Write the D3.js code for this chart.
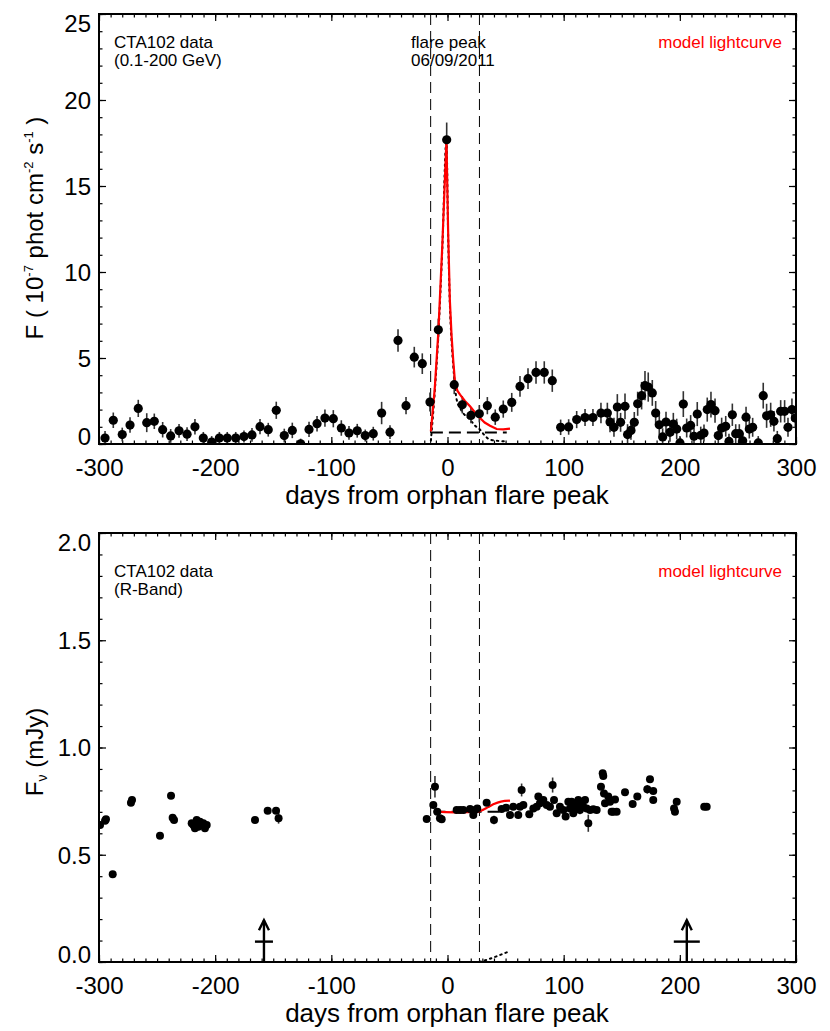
<!DOCTYPE html>
<html><head><meta charset="utf-8">
<script src="https://cdn.jsdelivr.net/npm/d3@7"></script>
<style>body{margin:0;background:#fff} svg{display:block}</style>
</head><body>
<svg id="c" width="830" height="1031"></svg>
<script>
// ---------- DATA ----------
// Fermi-LAT gamma-ray light curve (days from flare peak, flux 1e-7 ph cm^-2 s^-1, error)
const gammaDays = [-294.8,-287.7,-280,-273.3,-266.2,-258.9,-252.4,-245.2,-238.3,-231.1,-224.2,-217.4,-210.2,-203,-196.4,-189.6,-182.3,-175.2,-168.3,-161.4,-154.3,-147.4,-140.5,-133.6,-126.4,-119.2,-112.3,-105.5,-98.3,-91.4,-84.8,-77.7,-70.8,-63.9,-56.7,-49.5,-42.6,-35.7,-28.6,-21.7,-15.1,-7.9,-0.7,5.8,12.7,20.2,27.4,34.3,41.1,48,55.3,62.4,69.3,76.2,83.3,90.2,
  97.4,104.3,111.2,118.4,125.2,132.1,137.6,139.9,143.3,146.2,149,152.8,155,157.9,160.8,163.7,167.1,170,172.8,176.3,179.2,182.3,185.2,188.1,191.5,194.4,197.3,200.1,203,205.9,209.3,212.2,215,218,220.8,223.6,226.8,230.3,233.1,236,239.5,242.3,245.2,248.1,251.2,254.1,257,259.8,262.7,267.5,271.8,274.7,278.2,281,283.9,286.8,290.2,293.1,296.5,299.4];
const gammaFlux = [0.35,1.38,0.55,1.10,2.07,1.24,1.32,0.83,0.47,0.77,0.57,1.00,0.35,0.11,0.35,0.35,0.35,0.43,0.53,1.01,0.83,1.96,0.49,0.79,0.01,0.85,1.18,1.51,1.47,0.93,0.64,0.77,0.49,0.60,1.80,0.69,6.02,2.23,5.05,4.67,2.44,6.64,17.69,3.45,2.28,1.66,1.76,2.23,1.56,2.03,2.42,3.35,3.80,4.16,4.16,3.68,
  0.97,0.99,1.42,1.54,1.54,1.80,1.80,1.28,0.97,2.15,1.26,2.19,0.55,0.79,1.26,2.34,2.81,3.39,3.31,2.97,1.80,1.12,0.41,1.28,0.68,1.16,0.87,0.06,2.32,0.93,1.08,0.45,1.74,0.51,0.64,2.00,2.29,1.94,0.49,0.93,1.03,0.15,1.70,0.60,0.60,0.19,1.56,0.87,0.97,0.06,2.81,1.64,1.70,1.32,0.31,1.90,1.90,0.97,2.00,1.51];
const gammaErr = [0.40,0.45,0.40,0.45,0.50,0.55,0.45,0.45,0.40,0.40,0.40,0.45,0.35,0.35,0.35,0.35,0.35,0.35,0.40,0.45,0.40,0.50,0.40,0.45,0.30,0.45,0.45,0.50,0.50,0.45,0.40,0.40,0.35,0.40,0.65,0.40,0.65,0.50,0.60,0.60,0.55,0.65,1.00,0.55,0.50,0.45,0.50,0.50,0.45,0.50,0.55,0.60,0.60,0.65,0.65,0.65,
  0.45,0.45,0.50,0.50,0.50,0.60,0.60,0.60,0.55,0.75,0.55,0.75,0.60,0.55,0.60,0.70,0.80,0.85,0.85,0.75,0.70,0.60,0.50,0.60,0.55,0.65,0.60,0.40,0.75,0.55,0.60,0.50,0.70,0.50,0.50,0.70,0.75,0.70,0.50,0.60,0.60,0.45,0.65,0.55,0.55,0.45,0.60,0.55,0.55,0.40,0.75,0.70,0.70,0.60,0.45,0.65,0.65,0.55,0.65,0.60];

// gamma-ray model
const gModelDays = [-14.3,-11,-7.9,-4.5,-0.9,0.5,2.0,3.5,4.9,6.5,8.5,10.8,15,19.4,24,28,32,36.6,42.3,48,53.8];
const gModelFlux = [0.73,3.2,6.5,11.5,17.69,12.5,8.4,6.3,4.9,3.55,3.1,2.87,2.5,2.19,1.8,1.51,1.25,1.06,0.87,0.85,0.89];
const gFlareDays = [-14.3,-11,-7.9,-4.5,-0.9,0.5,2.0,3.5,4.9,7.9,12,19.4,24,28,32,36.6,44,51];
const gFlareFlux = [0.2,3.0,6.3,11.3,17.69,12.3,8.2,6.0,4.6,2.58,1.95,1.41,1.05,0.83,0.5,0.25,0.18,0.15];
const gBaseDays = [-14.3,51];
const gBaseFlux = [0.67,0.67];

// R-band optical light curve (days, mJy, error)
const rDays = [-299.1,-294.8,-294,-288.2,-272.5,-271.6,-247.5,-238,-236.6,-235.4,-220.2,-218.8,-217.4,-215.9,-214.5,-213.1,-210.2,-208.8,-207.3,-165.7,-154.8,-147.6,-145.4,
  -17.9,-12.2,-10.8,-8.8,-6.5,-5,7.9,10.8,13.6,19.4,22.2,23.7,25.6,33.7,40,46.6,50.4,53.8,56.6,60.9,62.4,63.8,65.3,70.4,73.9,76.8,78.2,79.6,82.5,85.4,88.2,90.5,91.7,94,96.8,99.7,101.7,104,105.4,106.9,108.3,109.7,111.2,112.6,114,115.5,116.9,118.4,119.8,121.2,122.7,125.5,128.4,132.1,133.6,134.1,134.7,135.6,138.4,139.9,141.3,142.7,144.2,145.6,152.8,159.4,163.4,172,174.3,177.1,177.1,195,195.8,197.3,221,223.1];
const rFlux = [0.639,0.659,0.665,0.409,0.743,0.755,0.589,0.775,0.673,0.662,0.647,0.639,0.623,0.662,0.631,0.654,0.647,0.623,0.639,0.662,0.705,0.705,0.670,
  0.667,0.732,0.817,0.701,0.670,0.665,0.709,0.709,0.709,0.713,0.685,0.709,0.716,0.743,0.662,0.713,0.719,0.685,0.724,0.685,0.724,0.802,0.732,0.689,0.716,0.724,0.771,0.740,0.755,0.732,0.724,0.825,0.755,0.693,0.724,0.709,0.678,0.747,0.716,0.747,0.693,0.732,0.716,0.755,0.709,0.732,0.724,0.755,0.716,0.647,0.709,0.712,0.709,0.817,0.880,0.867,0.786,0.740,0.771,0.747,0.701,0.701,0.758,0.701,0.791,0.737,0.771,0.805,0.852,0.797,0.755,0.716,0.701,0.747,0.724,0.724];
const rErr = [0.01,0.01,0.01,0.01,0.01,0.01,0.01,0.01,0.01,0.01,0.01,0.01,0.01,0.01,0.01,0.01,0.01,0.01,0.01,0.01,0.01,0.01,0.025,
  0.01,0.01,0.05,0.01,0.01,0.01,0.01,0.01,0.01,0.01,0.01,0.01,0.01,0.015,0.02,0.01,0.01,0.01,0.01,0.01,0.01,0.03,0.015,0.01,0.01,0.01,0.015,0.01,0.015,0.01,0.01,0.035,0.015,0.01,0.015,0.01,0.01,0.015,0.01,0.015,0.01,0.015,0.01,0.015,0.02,0.01,0.01,0.015,0.01,0.04,0.01,0.01,0.01,0.01,0.01,0.01,0.01,0.01,0.01,0.01,0.01,0.01,0.01,0.01,0.015,0.01,0.01,0.02,0.01,0.01,0.01,0.01,0.01,0.01,0.01,0.01];

// R-band model
const rModelDays = [-6.4,9.3,25,30,35,39.4,46,53.8];
const rModelFlux = [0.700,0.698,0.700,0.708,0.722,0.735,0.748,0.752];
const rBaseDays = [-12,46];
const rBaseFlux = [0.700,0.700];
const rFlareDays = [27.5,35,43,52];
const rFlareFlux = [0.0,0.012,0.028,0.047];

// upper-limit arrows in R band
const arrowDays = [-158, 206];
const arrowTopFlux = 0.195;
const arrowBarFlux = 0.095;

// vertical markers (flare window)
const windowDays = [-14.5, 27.5];

// axis ticks
const xMajor = [-300,-200,-100,0,100,200,300];
const xMinor = d3.range(-300, 301, 10);
const yTopMajor = [0,5,10,15,20,25];
const yTopMinor = d3.range(0, 26, 1);
const yBotMajor = [0,0.5,1.0,1.5,2.0];
const yBotMinor = d3.range(0, 21, 1).map(d => d / 10);

// ---------- DRAWING ----------
const FONT = "'Liberation Sans', Arial, Helvetica, sans-serif";
const svg = d3.select('#c');
svg.append('rect').attr('width', 830).attr('height', 1031).attr('fill', '#fff');

const L = 99, R = 796;
const x = d3.scaleLinear().domain([-300, 300]).range([L, R]);
const yT = d3.scaleLinear().domain([0, 25]).range([444, 14]);
const yB = d3.scaleLinear().domain([0, 2]).range([962, 533]);

function panel(id, y, yMajor, yMinor, yFmt) {
  const [b, t] = y.range();
  const g = svg.append('g');
  const defs = svg.append('defs');
  defs.append('clipPath').attr('id', id).append('rect')
    .attr('x', L).attr('y', t).attr('width', R - L).attr('height', b - t);

  const styleAxis = a => {
    a.select('.domain').remove();
    a.selectAll('line').attr('stroke', '#000').attr('stroke-width', 1.2);
    a.selectAll('text').attr('font-family', FONT).attr('font-size', 24).attr('fill', '#000');
  };
  g.append('g').attr('transform', `translate(0,${b})`)
    .call(d3.axisBottom(x).tickValues(xMajor).tickSizeInner(-7).tickSizeOuter(0).tickPadding(15)
      .tickFormat(d => String(d))).call(styleAxis);
  g.append('g').attr('transform', `translate(0,${b})`)
    .call(d3.axisBottom(x).tickValues(xMinor).tickSizeInner(-3.5).tickSizeOuter(0).tickFormat('')).call(styleAxis);
  g.append('g').attr('transform', `translate(0,${t})`)
    .call(d3.axisTop(x).tickValues(xMajor).tickSizeInner(-7).tickSizeOuter(0).tickFormat('')).call(styleAxis);
  g.append('g').attr('transform', `translate(0,${t})`)
    .call(d3.axisTop(x).tickValues(xMinor).tickSizeInner(-3.5).tickSizeOuter(0).tickFormat('')).call(styleAxis);
  const la = g.append('g').attr('transform', `translate(${L},0)`)
    .call(d3.axisLeft(y).tickValues(yMajor).tickSizeInner(-7).tickSizeOuter(0).tickPadding(8).tickFormat(yFmt)).call(styleAxis);
  const dMin = y.domain()[0], dMax = y.domain()[1];
  la.selectAll('.tick text').attr('dy', d => d === dMin ? '0em' : (d === dMax ? '0.72em' : '0.35em'));
  g.append('g').attr('transform', `translate(${L},0)`)
    .call(d3.axisLeft(y).tickValues(yMinor).tickSizeInner(-3.5).tickSizeOuter(0).tickFormat('')).call(styleAxis);
  g.append('g').attr('transform', `translate(${R},0)`)
    .call(d3.axisRight(y).tickValues(yMajor).tickSizeInner(-7).tickSizeOuter(0).tickFormat('')).call(styleAxis);
  g.append('g').attr('transform', `translate(${R},0)`)
    .call(d3.axisRight(y).tickValues(yMinor).tickSizeInner(-3.5).tickSizeOuter(0).tickFormat('')).call(styleAxis);

  g.selectAll('line.win').data(windowDays).enter().append('line')
    .attr('x1', d => x(d)).attr('x2', d => x(d)).attr('y1', t).attr('y2', b)
    .attr('stroke', '#000').attr('stroke-width', 1).attr('stroke-dasharray', '11,6');

  const data = svg.append('g').attr('clip-path', `url(#${id})`);
  return { g, data, b, t };
}

// ===== TOP PANEL =====
const P1 = panel('clipTop', yT, yTopMajor, yTopMinor, d => String(d));
const lineT = d3.line().x(d => x(d[0])).y(d => yT(d[1]));
P1.data.append('path').datum(d3.zip(gBaseDays, gBaseFlux)).attr('d', lineT)
  .attr('fill', 'none').attr('stroke', '#000').attr('stroke-width', 2).attr('stroke-dasharray', '12,6');
P1.data.append('path').datum(d3.zip(gFlareDays, gFlareFlux)).attr('d', lineT.curve(d3.curveMonotoneX))
  .attr('fill', 'none').attr('stroke', '#000').attr('stroke-width', 2).attr('stroke-dasharray', '1.5,4').attr('stroke-linecap', 'round');
const gPts = d3.zip(gammaDays, gammaFlux, gammaErr);
P1.data.selectAll('line.err').data(gPts).enter().append('line')
  .attr('x1', d => x(d[0])).attr('x2', d => x(d[0]))
  .attr('y1', d => yT(d[1] - d[2])).attr('y2', d => yT(d[1] + d[2]))
  .attr('stroke', '#333').attr('stroke-width', 1.6);
P1.data.append('path').datum(d3.zip(gModelDays, gModelFlux))
  .attr('d', d3.line().x(d => x(d[0])).y(d => yT(d[1])))
  .attr('fill', 'none').attr('stroke', '#f00').attr('stroke-width', 2.2);
P1.data.selectAll('circle.pt').data(gPts).enter().append('circle')
  .attr('cx', d => x(d[0])).attr('cy', d => yT(d[1])).attr('r', 4.6).attr('fill', '#000');

svg.append('rect').attr('x', L).attr('y', P1.t).attr('width', R - L).attr('height', P1.b - P1.t)
  .attr('fill', 'none').attr('stroke', '#000').attr('stroke-width', 2);

function txt(xp, yp, s, opts = {}) {
  return svg.append('text').attr('x', xp).attr('y', yp).text(s)
    .attr('font-family', FONT).attr('font-size', opts.size || 17)
    .attr('fill', opts.fill || '#000').attr('text-anchor', opts.anchor || 'start');
}
txt(114, 48, 'CTA102 data');
txt(114, 66, '(0.1-200 GeV)');
txt(411, 48, 'flare peak');
txt(411, 66, '06/09/2011');
txt(782, 48, 'model lightcurve', { fill: '#f00', anchor: 'end' });

txt(447, 504, 'days from orphan flare peak', { size: 26, anchor: 'middle' });

const yl1 = svg.append('text').attr('transform', 'translate(43,228) rotate(-90)')
  .attr('font-family', FONT).attr('font-size', 24).attr('text-anchor', 'middle');
yl1.append('tspan').text('F ( 10');
yl1.append('tspan').text('-7').attr('font-size', 13).attr('dy', '-0.75em');
yl1.append('tspan').text(' phot cm').attr('dy', '0.41em');
yl1.append('tspan').text('-2').attr('font-size', 13).attr('dy', '-0.75em');
yl1.append('tspan').text(' s').attr('dy', '0.41em');
yl1.append('tspan').text('-1').attr('font-size', 13).attr('dy', '-0.75em');
yl1.append('tspan').text(' )').attr('dy', '0.41em');

// ===== BOTTOM PANEL =====
const P2 = panel('clipBot', yB, yBotMajor, yBotMinor, d3.format('.1f'));
const lineB = d3.line().x(d => x(d[0])).y(d => yB(d[1]));
P2.data.append('path').datum(d3.zip(rBaseDays, rBaseFlux)).attr('d', lineB)
  .attr('fill', 'none').attr('stroke', '#000').attr('stroke-width', 2).attr('stroke-dasharray', '12,6');
P2.data.append('path').datum(d3.zip(rFlareDays, rFlareFlux)).attr('d', lineB)
  .attr('fill', 'none').attr('stroke', '#000').attr('stroke-width', 2).attr('stroke-dasharray', '1.5,4').attr('stroke-linecap', 'round');
const rPts = d3.zip(rDays, rFlux, rErr);
P2.data.selectAll('line.err').data(rPts).enter().append('line')
  .attr('x1', d => x(d[0])).attr('x2', d => x(d[0]))
  .attr('y1', d => yB(d[1] - d[2])).attr('y2', d => yB(d[1] + d[2]))
  .attr('stroke', '#333').attr('stroke-width', 1.6);
P2.data.append('path').datum(d3.zip(rModelDays, rModelFlux)).attr('d', d3.line().curve(d3.curveMonotoneX).x(d => x(d[0])).y(d => yB(d[1])))
  .attr('fill', 'none').attr('stroke', '#f00').attr('stroke-width', 2.2);
P2.data.selectAll('circle.pt').data(rPts).enter().append('circle')
  .attr('cx', d => x(d[0])).attr('cy', d => yB(d[1])).attr('r', 4).attr('fill', '#000');

const barHalf = [9, 13];
arrowDays.forEach((d, i) => {
  const ax = x(d), y0 = yB(0), yTop = yB(arrowTopFlux), yBar = yB(arrowBarFlux);
  const ga = svg.append('g').attr('stroke', '#000').attr('stroke-width', 2.4).attr('fill', 'none');
  ga.append('line').attr('x1', ax).attr('x2', ax).attr('y1', y0).attr('y2', yTop);
  ga.append('path').attr('d', `M${ax - 5},${yTop + 10}L${ax},${yTop}L${ax + 5},${yTop + 10}`);
  ga.append('line').attr('x1', ax - barHalf[i]).attr('x2', ax + barHalf[i]).attr('y1', yBar).attr('y2', yBar);
});

svg.append('rect').attr('x', L).attr('y', P2.t).attr('width', R - L).attr('height', P2.b - P2.t)
  .attr('fill', 'none').attr('stroke', '#000').attr('stroke-width', 2);

txt(114, 577, 'CTA102 data');
txt(114, 595, '(R-Band)');
txt(782, 577, 'model lightcurve', { fill: '#f00', anchor: 'end' });
txt(447, 1022, 'days from orphan flare peak', { size: 26, anchor: 'middle' });

const yl2 = svg.append('text').attr('transform', 'translate(43,752) rotate(-90)')
  .attr('font-family', FONT).attr('font-size', 24).attr('text-anchor', 'middle');
yl2.append('tspan').text('F');
yl2.append('tspan').text('ν').attr('font-size', 14).attr('dy', '0.3em');
yl2.append('tspan').text(' (mJy)').attr('dy', '-0.18em');
</script>
</body></html>
